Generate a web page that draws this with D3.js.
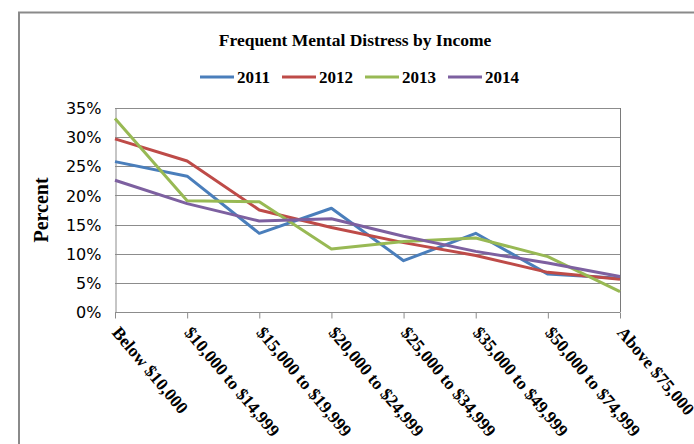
<!DOCTYPE html>
<html>
<head>
<meta charset="utf-8">
<script src="https://cdn.jsdelivr.net/npm/d3@7"></script>
<style>
    body { margin: 0; background: #fff; }
</style>
</head>
<body>
<script>
var categories = ["Below $10,000", "$10,000 to $14,999", "$15,000 to $19,999", "$20,000 to $24,999",
                  "$25,000 to $34,999", "$35,000 to $49,999", "$50,000 to $74,999", "Above $75,000"];
var years = ["2011", "2012", "2013", "2014"];
var values2011 = [25.8, 23.3, 13.5, 17.8, 8.8, 13.5, 6.5, 5.8];
var values2012 = [29.7, 25.9, 17.5, 14.5, 11.9, 9.7, 6.8, 5.6];
var values2013 = [33.2, 19.1, 18.9, 10.8, 12.1, 12.7, 9.5, 3.5];
var values2014 = [22.6, 18.6, 15.6, 16.0, 13.0, 10.4, 8.4, 6.1];
var yTicks = [0, 5, 10, 15, 20, 25, 30, 35];

var w = 694, h = 444;
var plotLeft = 115, plotRight = 620, plotTop = 108, plotBottom = 312;

var colors = {
    "2011": "#4a7ebb",
    "2012": "#be4b48",
    "2013": "#98b954",
    "2014": "#7d60a0"
};

var series = [
    {key: "2011", values: values2011},
    {key: "2012", values: values2012},
    {key: "2013", values: values2013},
    {key: "2014", values: values2014}
];

var svg = d3.select("body")
            .append("svg")
            .attr("width", w)
            .attr("height", h);

// chart border (runs off the right and bottom edge)
svg.append("rect")
    .attr("x", 19)
    .attr("y", 12.5)
    .attr("width", 800)
    .attr("height", 600)
    .attr("fill", "none")
    .attr("stroke", "#8a8a8a")
    .attr("stroke-width", 2);

var xScale = d3.scalePoint()
                .domain(categories)
                .range([plotLeft, plotRight]);

var yScale = d3.scaleLinear()
                .domain([0, 35])
                .range([plotBottom, plotTop]);

// gridlines
svg.append("g")
    .selectAll("line")
    .data(yTicks)
    .enter()
    .append("line")
    .attr("x1", plotLeft)
    .attr("x2", plotRight)
    .attr("y1", d => Math.round(yScale(d)) + 0.5)
    .attr("y2", d => Math.round(yScale(d)) + 0.5)
    .attr("stroke", "#8c8c8c")
    .attr("stroke-width", 1);

// right border of plot area
svg.append("line")
    .attr("x1", plotRight + 0.5)
    .attr("x2", plotRight + 0.5)
    .attr("y1", plotTop)
    .attr("y2", plotBottom)
    .attr("stroke", "#7a7a7a");

var yAxis = d3.axisLeft()
            .scale(yScale)
            .tickValues(yTicks)
            .tickSize(0)
            .tickPadding(14)
            .tickFormat(d => d + "%");

var yG = svg.append("g")
            .attr("transform", "translate(" + (plotLeft + 0.5) + ",0.5)")
            .call(yAxis);
yG.select(".domain").attr("stroke", "#8c8c8c");
yG.selectAll("text")
    .attr("font-family", "DejaVu Sans")
    .attr("font-size", 16)
    .attr("fill", "#000");

var xAxis = d3.axisBottom()
            .scale(xScale)
            .tickSize(6)
            .tickSizeOuter(0)
            .tickFormat("");

var xG = svg.append("g")
            .attr("transform", "translate(0," + (Math.round(plotBottom) + 0.5) + ")")
            .call(xAxis);
xG.selectAll("line, path").attr("stroke", "#8c8c8c");
xG.select(".domain").attr("d", "M" + plotLeft + ",0H" + plotRight);

// rotated category labels
svg.append("g")
    .selectAll("text")
    .data(categories)
    .enter()
    .append("text")
    .attr("transform", d => "translate(" + (xScale(d) + 1) + "," + 329 + ") rotate(50)")
    .attr("font-family", "Liberation Serif")
    .attr("font-weight", "bold")
    .attr("font-size", 17.5)
    .attr("dy", "0.35em")
    .text(d => d);

var line = d3.line()
            .x((d, i) => xScale(categories[i]))
            .y(d => yScale(d));

svg.append("g")
    .selectAll("path")
    .data(series)
    .enter()
    .append("path")
    .attr("d", d => line(d.values))
    .attr("fill", "none")
    .attr("stroke", d => colors[d.key])
    .attr("stroke-width", 3)
    .attr("stroke-linejoin", "round");

// title
svg.append("text")
    .attr("x", 355)
    .attr("y", 46)
    .attr("text-anchor", "middle")
    .attr("font-family", "Liberation Serif")
    .attr("font-weight", "bold")
    .attr("font-size", 17.5)
    .text("Frequent Mental Distress by Income");

// y axis title
svg.append("text")
    .attr("transform", "translate(48,210) rotate(-90)")
    .attr("text-anchor", "middle")
    .attr("font-family", "Liberation Serif")
    .attr("font-weight", "bold")
    .attr("font-size", 20)
    .text("Percent");

// legend
var legendX = [200, 282, 365, 448];
var legend = svg.append("g")
                .selectAll("g")
                .data(years)
                .enter()
                .append("g")
                .attr("transform", (d, i) => "translate(" + legendX[i] + ",77)");

legend.append("line")
    .attr("x1", 0)
    .attr("x2", 34)
    .attr("stroke", d => colors[d])
    .attr("stroke-width", 3);

legend.append("text")
    .attr("x", 37)
    .attr("y", 6)
    .attr("font-family", "Liberation Serif")
    .attr("font-weight", "bold")
    .attr("font-size", 17)
    .text(d => d);
</script>
</body>
</html>
